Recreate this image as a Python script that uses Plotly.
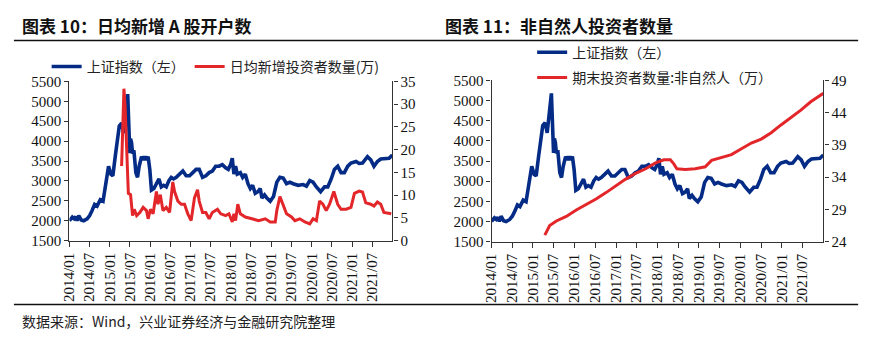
import plotly.graph_objects as go

# ---------------- data ----------------
sh_dates = ["2014-01-01","2014-01-27","2014-02-12","2014-02-27","2014-03-11","2014-03-26","2014-04-17","2014-05-10",
            "2014-06-10","2014-07-03","2014-07-24","2014-08-17","2014-09-08","2014-10-07","2014-11-01","2014-11-21",
            "2014-12-21","2015-01-11","2015-01-29","2015-02-19","2015-03-10","2015-03-28","2015-04-18","2015-05-06",
            "2015-06-12","2015-06-18","2015-06-24","2015-07-01","2015-07-08","2015-07-17","2015-07-26","2015-08-07",
            "2015-08-25","2015-09-09","2015-09-24","2015-10-15","2015-10-30","2015-11-14","2015-11-29","2015-12-14",
            "2015-12-29","2016-01-13","2016-02-04","2016-02-27","2016-03-21","2016-04-11","2016-05-02","2016-05-26",
            "2016-06-19","2016-07-10","2016-07-31","2016-08-24","2016-09-23","2016-10-23","2016-11-22","2016-12-22",
            "2017-01-21","2017-02-20","2017-03-20","2017-04-19","2017-05-19","2017-06-18","2017-07-17","2017-08-16",
            "2017-09-16","2017-10-15","2017-11-14","2017-12-08","2017-12-29","2018-01-13","2018-01-28","2018-02-12",
            "2018-02-27","2018-03-27","2018-04-17","2018-05-11","2018-06-04","2018-06-25","2018-07-16","2018-08-09",
            "2018-09-02","2018-09-23","2018-10-08","2018-11-01","2018-11-22","2018-12-22","2019-01-21","2019-02-20",
            "2019-03-20","2019-04-19","2019-05-19","2019-06-18","2019-07-18","2019-09-01","2019-10-16","2019-11-15",
            "2019-12-15","2020-01-14","2020-02-13","2020-03-22","2020-04-27","2020-05-26","2020-06-26","2020-07-25",
            "2020-08-24","2020-09-23","2020-10-23","2020-11-23","2020-12-22","2021-02-06","2021-03-06","2021-04-05",
            "2021-05-20","2021-06-19","2021-07-18","2021-08-18","2021-09-17","2021-11-01","2021-12-01","2021-12-31"]
sh_index = [2000,2090,2050,2100,2000,2130,2020,2000,
            2050,2130,2250,2410,2370,2530,2490,2890,
            3370,3170,3130,3610,4010,4380,4450,4200,
            5180,4600,4010,3700,4060,3960,3690,3770,
            3210,3090,3370,3610,3530,3610,3530,3610,
            3290,2770,2810,2930,3050,2850,2890,2850,
            3010,3090,3050,3090,3170,3250,3130,3130,
            3210,3290,3290,3090,3130,3210,3250,3370,
            3370,3410,3330,3290,3410,3570,3170,3370,
            3170,3210,3090,3170,2930,2810,2890,2690,
            2730,2810,2570,2650,2570,2490,2610,2970,
            3090,3070,2930,2970,2930,2890,2910,2870,
            3010,2970,2850,2730,2850,2850,3050,3290,
            3370,3210,3210,3370,3450,3490,3440,3450,
            3610,3530,3370,3490,3550,3550,3570,3650]

new_dates = ["2015-04-18","2015-05-09","2015-05-19","2015-06-03","2015-06-18","2015-07-08","2015-07-26","2015-08-10",
             "2015-09-01","2015-09-30","2015-10-30","2015-11-29","2015-12-14","2016-01-04","2016-01-28","2016-02-27",
             "2016-03-12","2016-04-02","2016-04-26","2016-05-26","2016-06-25","2016-07-24","2016-08-09","2016-09-08",
             "2016-10-08","2016-11-07","2016-12-07","2017-01-06","2017-02-05","2017-03-05","2017-03-20","2017-04-19",
             "2017-05-19","2017-06-18","2017-07-17","2017-09-01","2017-10-01","2017-11-14","2017-12-14","2018-01-13",
             "2018-01-28","2018-02-12","2018-03-04","2018-03-27","2018-05-11","2018-07-10","2018-09-08","2018-11-08",
             "2018-12-22","2019-02-06","2019-02-20","2019-03-20","2019-04-19","2019-05-19","2019-07-03","2019-08-02",
             "2019-09-16","2019-11-01","2019-12-15","2020-01-14","2020-02-13","2020-03-13","2020-04-12","2020-05-12",
             "2020-06-11","2020-07-20","2020-08-24","2020-09-23","2020-11-08","2020-12-22","2021-01-22","2021-03-06",
             "2021-04-05","2021-05-05","2021-06-19","2021-07-18","2021-08-18","2021-09-17","2021-10-16","2021-11-15",
             "2021-12-21"]
new_investors = [16.4,33.4,29.8,19.2,10.4,10.1,5.5,6.9,
                 5.5,6.2,7.3,6.6,4.8,6.9,5.9,10.8,
                 8.0,10.1,6.6,7.3,6.2,12.9,10.8,8.7,
                 8.0,8.0,5.9,4.4,9.4,11.2,8.7,6.2,
                 6.2,4.8,6.2,6.9,5.9,5.5,5.9,4.1,
                 5.9,4.4,8.0,5.9,5.2,4.8,4.4,4.8,
                 4.1,4.1,6.6,9.7,8.0,5.9,5.2,4.4,
                 4.8,4.1,3.7,4.8,4.4,8.7,8.0,6.6,
                 8.0,10.8,8.0,6.9,6.9,7.3,10.4,10.9,
                 10.7,8.3,8.0,7.6,8.5,8.0,6.2,6.0,
                 5.9]

inst_dates = ["2015-04-15","2015-05-28","2015-07-26","2015-10-21","2016-01-17","2016-04-13","2016-07-09","2016-10-05",
              "2017-01-01","2017-03-27","2017-06-23","2017-09-19","2017-12-15","2018-02-26","2018-04-24","2018-05-23",
              "2018-06-21","2018-09-02","2018-11-29","2019-02-25","2019-04-22","2019-07-18","2019-10-14","2020-01-10",
              "2020-04-06","2020-07-02","2020-09-28","2020-12-23","2021-03-20","2021-06-16","2021-09-11","2021-11-09",
              "2021-12-31"]
inst_investors = [25.0,26.5,27.2,27.9,28.9,29.7,30.6,31.6,
                  32.7,33.7,34.6,35.3,36.2,36.7,36.7,36.1,
                  35.3,35.2,35.3,35.6,36.6,37.0,37.5,38.4,
                  39.3,39.9,40.9,42.1,43.2,44.4,45.7,46.4,
                  47.0]

tick_dates = ["2014-01-01","2014-07-01","2015-01-01","2015-07-01","2016-01-01","2016-07-01","2017-01-01","2017-07-01",
              "2018-01-01","2018-07-01","2019-01-01","2019-07-01","2020-01-01","2020-07-01","2021-01-01","2021-07-01"]
tick_labels = ["2014/01","2014/07","2015/01","2015/07","2016/01","2016/07","2017/01","2017/07",
               "2018/01","2018/07","2019/01","2019/07","2020/01","2020/07","2021/01","2021/07"]

title_left = "图表 10：日均新增 A 股开户数"
title_right = "图表 11：非自然人投资者数量"
source_text = "数据来源：Wind，兴业证券经济与金融研究院整理"
name_sh = "上证指数（左）"
name_new = "日均新增投资者数量(万)"
name_inst = "期末投资者数量:非自然人（万）"

# ---------------- style ----------------
W, H = 873, 344
BLUE = "#042C86"
RED = "#E3262A"
AX = "#333333"
NUM_FONT = dict(family="Liberation Serif, Times New Roman, serif", size=15, color="#111111")
CJK = "Noto Sans CJK SC"

def px(x):
    return x / W

def py(y):
    return 1 - y / H

fig = go.Figure()

fig.add_trace(go.Scatter(x=sh_dates, y=sh_index, name=name_sh, mode="lines",
                         line=dict(color=BLUE, width=3.6), xaxis="x", yaxis="y", legend="legend"))
fig.add_trace(go.Scatter(x=new_dates, y=new_investors, name=name_new, mode="lines",
                         line=dict(color=RED, width=3), xaxis="x", yaxis="y2", legend="legend"))
fig.add_trace(go.Scatter(x=sh_dates, y=sh_index, name=name_sh, mode="lines",
                         line=dict(color=BLUE, width=3.6), xaxis="x2", yaxis="y3",
                         legend="legend2", legendgroup="a"))
fig.add_trace(go.Scatter(x=inst_dates, y=inst_investors, name=name_inst, mode="lines",
                         line=dict(color=RED, width=3), xaxis="x2", yaxis="y4",
                         legend="legend2", legendgroup="b"))

xcommon = dict(type="date", range=["2014-01-01", "2022-01-01"], tickmode="array",
               tickvals=tick_dates, ticktext=tick_labels, tickangle=-90,
               showline=True, linecolor=AX, linewidth=1.2, ticks="outside", ticklen=5,
               tickcolor=AX, showgrid=False, zeroline=False, tickfont=NUM_FONT)
ycommon = dict(showline=True, linecolor=AX, linewidth=1.2, ticks="outside", ticklen=4,
               tickcolor=AX, showgrid=False, zeroline=False, tickfont=NUM_FONT)

L_dom_x = [px(62), px(388)]
L_dom_y = [py(244), py(77)]
R_dom_x = [px(488), px(823)]
R_dom_y = [py(245), py(76)]

fig.update_layout(
    width=W, height=H, margin=dict(l=0, r=0, t=0, b=0),
    paper_bgcolor="white", plot_bgcolor="white",
    xaxis=dict(domain=L_dom_x, anchor="y", **xcommon),
    yaxis=dict(domain=L_dom_y, anchor="x", range=[1500, 5500], dtick=500, side="left", **ycommon),
    yaxis2=dict(overlaying="y", anchor="x", side="right", range=[0, 35], dtick=5, **ycommon),
    xaxis2=dict(domain=R_dom_x, anchor="y3", **xcommon),
    yaxis3=dict(domain=R_dom_y, anchor="x2", range=[1500, 5500], dtick=500, side="left", **ycommon),
    yaxis4=dict(overlaying="y3", anchor="x2", side="right", range=[24, 49], tick0=24, dtick=5, **ycommon),
    legend=dict(orientation="h", x=px(39), y=py(45), xanchor="left", yanchor="top",
                font=dict(family=CJK, size=14, color="#222222"), bgcolor="rgba(0,0,0,0)",
                itemwidth=30),
    legend2=dict(orientation="v", x=px(529), y=py(30), xanchor="left", yanchor="top",
                 font=dict(family=CJK, size=14, color="#222222"), bgcolor="rgba(0,0,0,0)",
                 tracegroupgap=4, itemwidth=30),
    showlegend=True,
)

# titles and source
fig.add_annotation(text="<b>" + title_left + "</b>", x=px(12), y=py(18), xref="paper", yref="paper",
                   xanchor="left", yanchor="middle", showarrow=False,
                   font=dict(family=CJK, size=17, color="#111111"))
fig.add_annotation(text="<b>" + title_right + "</b>", x=px(439), y=py(18), xref="paper", yref="paper",
                   xanchor="left", yanchor="middle", showarrow=False,
                   font=dict(family=CJK, size=17, color="#111111"))
fig.add_annotation(text=source_text, x=px(12), y=py(328), xref="paper", yref="paper",
                   xanchor="left", yanchor="middle", showarrow=False,
                   font=dict(family=CJK, size=14, color="#222222"))

# separator rules
for yy in (34, 311):
    fig.add_shape(type="line", xref="paper", yref="paper", x0=px(6), x1=px(858), y0=py(yy), y1=py(yy),
                  line=dict(color="#111111", width=1.5))

fig.write_html("out.html")
